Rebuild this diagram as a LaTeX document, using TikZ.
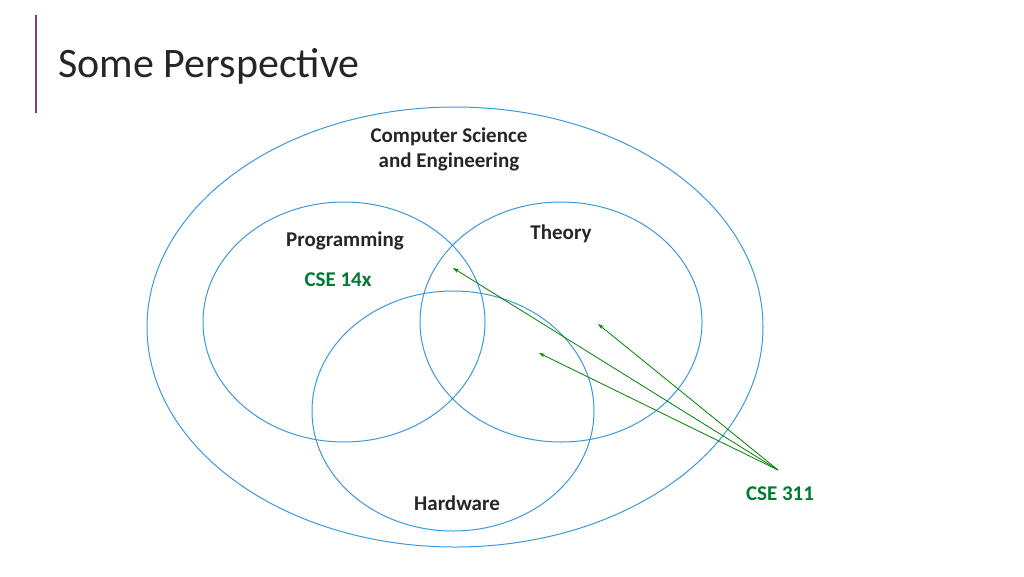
\documentclass[tikz,border=0pt]{standalone}
\usepackage{fontspec}
\setmainfont{Carlito}
\usetikzlibrary{arrows.meta}
\begin{document}
\begin{tikzpicture}[x=1pt,y=-1pt,
  ring/.style={draw=cyan!70!blue!80, line width=1pt},
  lbl/.style={font=\fontsize{21}{25}\selectfont\bfseries, text=black!85, align=center},
  grn/.style={font=\fontsize{21}{25}\selectfont\bfseries, text=green!35!black!80!cyan},
  arr/.style={draw=green!50!black, line width=0.8pt, -{Stealth[length=6pt,width=4pt,open]}}]
\useasboundingbox (0,0) rectangle (1024,576);
\draw[line width=1.5pt, draw=violet!50!gray] (36,15) -- (36,113);
\node[anchor=base west, font=\fontsize{42}{48}\selectfont, text=black!85] (title) at (55,77) {Some Perspective};
\draw[ring] (455,327) ellipse [x radius=308, y radius=220];
\draw[ring] (344,322) ellipse [x radius=141, y radius=120];
\draw[ring] (561,322) ellipse [x radius=141, y radius=120];
\draw[ring] (453,411) ellipse [x radius=141, y radius=120];
\node[lbl] (cse) at (449,149) {Computer Science\\ and Engineering};
\node[lbl] (prog) at (345,241) {Programming};
\node[grn] (c14) at (338,280) {CSE 14x};
\node[lbl] (th) at (561,234) {Theory};
\node[lbl] (hw) at (457,503) {Hardware};
\node[grn] (c311) at (780,494) {CSE 311};
\coordinate (src) at (778,470);
\coordinate (t1) at (453,268);
\coordinate (t2) at (598,324);
\coordinate (t3) at (539,353);
\draw[arr] (src) -- (t1);
\draw[arr] (src) -- (t2);
\draw[arr] (src) -- (t3);
\end{tikzpicture}
\end{document}
